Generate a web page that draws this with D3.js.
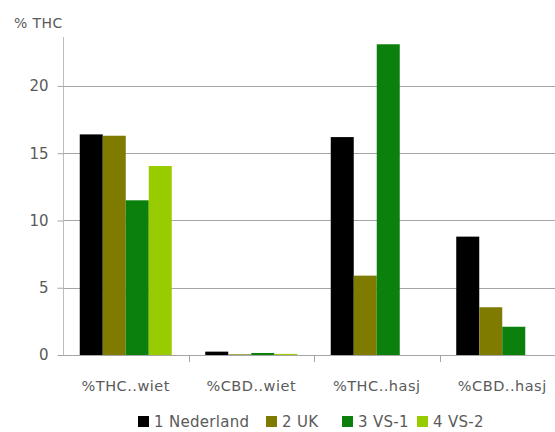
<!DOCTYPE html>
<html><head><meta charset="utf-8">
<script src="https://cdn.jsdelivr.net/npm/d3@7"></script>
<style>
html,body{margin:0;padding:0;background:#fff;}
svg{display:block;font-family:"DejaVu Sans",sans-serif;}
</style></head>
<body>
<svg id="c" width="555" height="432"></svg>
<script>
const categories = ["%THC..wiet", "%CBD..wiet", "%THC..hasj", "%CBD..hasj"];
const seriesNames = ["1 Nederland", "2 UK", "3 VS-1", "4 VS-2"];
const seriesColors = ["#000000", "#7f7a00", "#0b800c", "#99cc00"];
const nederland = [16.4, 0.25, 16.2, 8.8];
const uk = [16.3, 0.05, 5.9, 3.55];
const vs1 = [11.5, 0.15, 23.1, 2.1];
const vs2 = [14.05, 0.08, 0, 0];
const yTicks = [0, 5, 10, 15, 20];
const yLabel = "% THC";

(function () {
const seriesValues = [nederland, uk, vs1, vs2];
const svg = d3.select("#c");
const pLeft = 63, pRight = 565, pTop = 37, pBottom = 355;
const textColor = "#5a5a5a";

const x = d3.scaleBand().domain(categories).range([pLeft, pRight]).padding(0);
const xs = d3.scaleBand().domain(seriesNames).range([0, x.bandwidth()]).paddingInner(0).paddingOuter(0.728);
const y = d3.scaleLinear().domain([0, 23.64]).range([pBottom, pTop]);

// gridlines
svg.append("g").selectAll("line").data(yTicks.filter(d => d > 0)).join("line")
  .attr("x1", pLeft).attr("x2", 555)
  .attr("y1", d => Math.round(y(d)) + 0.5).attr("y2", d => Math.round(y(d)) + 0.5)
  .attr("stroke", "#a6a6a6").attr("stroke-width", 1);

// y axis
const yAxis = svg.append("g").attr("transform", `translate(${pLeft + 0.5},0)`)
  .call(d3.axisLeft(y).tickValues(yTicks).tickSize(6).tickPadding(9));
yAxis.select(".domain").attr("stroke", "#bdbdbd").attr("d", `M0,${pTop}V${pBottom}`);
yAxis.selectAll(".tick line").attr("stroke", "#a6a6a6");
yAxis.selectAll(".tick text").attr("fill", textColor).style("font-size", "15px")
  .style("font-family", "'DejaVu Sans',sans-serif");

// bars
const groups = svg.append("g").selectAll("g").data(categories).join("g")
  .attr("transform", d => `translate(${x(d)},0)`);
groups.selectAll("rect").data((c, ci) => seriesNames.map((s, si) => ({s, si, v: seriesValues[si][ci]})))
  .join("rect")
  .attr("x", d => xs(d.s)).attr("width", xs.bandwidth())
  .attr("y", d => y(d.v)).attr("height", d => y(0) - y(d.v))
  .attr("fill", d => seriesColors[d.si]);

// x axis
const xAxis = svg.append("g").attr("transform", `translate(0,${pBottom + 0.5})`)
  .call(d3.axisBottom(x).tickSize(0).tickPadding(25));
xAxis.select(".domain").attr("stroke", "#a6a6a6").attr("d", `M${pLeft},0H555`);
xAxis.selectAll(".tick text").attr("fill", textColor).style("font-size", "14.5px")
  .style("letter-spacing", "0.5px")
  .style("font-family", "'DejaVu Sans',sans-serif");
// boundary ticks
svg.append("g").selectAll("line").data(categories.slice(1)).join("line")
  .attr("x1", d => Math.round(x(d)) + 0.5).attr("x2", d => Math.round(x(d)) + 0.5)
  .attr("y1", pBottom).attr("y2", pBottom + 7)
  .attr("stroke", "#a6a6a6");

// y label
svg.append("text").attr("x", 14).attr("y", 28).text(yLabel)
  .attr("fill", textColor).style("font-size", "14px").style("letter-spacing", "0.4px");

// legend
const legendX = [138, 266, 342, 417];
const lg = svg.append("g").selectAll("g").data(seriesNames).join("g")
  .attr("transform", (d, i) => `translate(${legendX[i]},0)`);
lg.append("rect").attr("x", 0).attr("y", 416).attr("width", 11).attr("height", 11)
  .attr("fill", (d, i) => seriesColors[i]);
lg.append("text").attr("x", 16).attr("y", 427).text(d => d)
  .attr("fill", textColor).style("font-size", "15px").style("letter-spacing", "0.3px");
})();
</script>
</body></html>
